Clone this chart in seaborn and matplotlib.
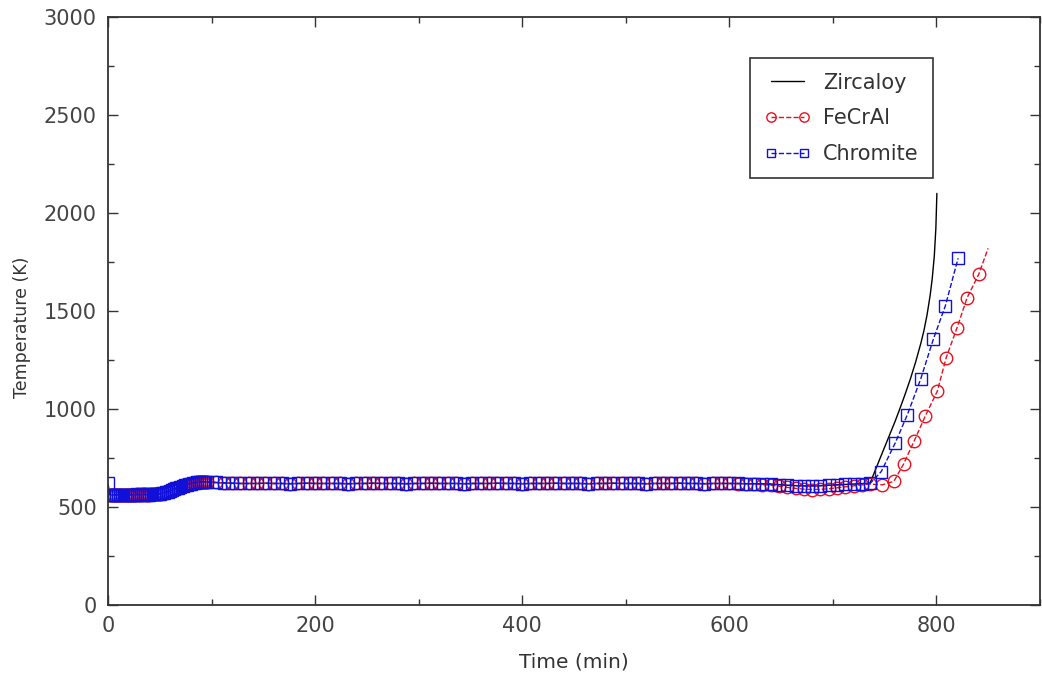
import numpy as np
import pandas as pd
import matplotlib
matplotlib.use("Agg")
import matplotlib.pyplot as plt
from matplotlib.ticker import MultipleLocator
import seaborn as sns

# ---- data -----------------------------------------------------------------
# early transient (min), sampled every 2 min
time_early = [2, 4, 6, 8, 10, 12, 14, 16, 18, 20, 22, 24, 26, 28, 30, 32, 34,
              36, 38, 40, 42, 44, 46, 48, 50, 52, 54, 56, 58, 60, 62, 64, 66,
              68, 70, 72, 74, 76, 78, 80, 82, 84, 86, 88, 90, 92, 94]
temp_early = [563, 562, 562, 562, 563, 562, 562, 563, 563, 562, 562, 563, 563,
              564, 563, 563, 564, 564, 563, 563, 564, 564, 565, 566, 567, 569,
              572, 575, 579, 583, 587, 591, 595, 599, 603, 607, 610, 613, 616,
              619, 621, 623, 625, 627, 628, 629, 628]

# quasi-steady period (min), sampled every 8 min
time_flat = [96, 104, 112, 120, 128, 136, 144, 152, 160, 168, 176, 184, 192,
             200, 208, 216, 224, 232, 240, 248, 256, 264, 272, 280, 288, 296,
             304, 312, 320, 328, 336, 344, 352, 360, 368, 376, 384, 392, 400,
             408, 416, 424, 432, 440, 448, 456, 464, 472, 480, 488, 496, 504,
             512, 520, 528, 536, 544, 552, 560, 568, 576, 584, 592, 600, 608,
             616, 624, 632, 640, 648, 656, 664, 672, 680, 688, 696, 704, 712,
             720, 728, 736]

zircaloy_flat = [627, 625, 623, 621, 620, 620, 620, 621, 620, 620, 619, 620,
                 621, 620, 620, 620, 620, 619, 620, 620, 621, 620, 620, 620,
                 619, 620, 620, 621, 620, 620, 620, 619, 620, 620, 620, 621,
                 620, 620, 619, 620, 620, 620, 621, 620, 620, 620, 619, 620,
                 620, 621, 620, 620, 620, 619, 620, 620, 620, 621, 620, 620,
                 619, 620, 620, 620, 620, 619, 619, 618, 617, 614, 611, 609,
                 608, 608, 609, 611, 613, 615, 617, 619, 622]
fecral_flat = [627, 625, 623, 621, 620, 620, 620, 621, 620, 620, 619, 620,
               621, 620, 620, 620, 620, 619, 620, 620, 621, 620, 620, 620,
               619, 620, 620, 621, 620, 620, 620, 619, 620, 620, 620, 621,
               620, 620, 619, 620, 620, 620, 621, 620, 620, 620, 619, 620,
               620, 621, 620, 620, 620, 619, 620, 620, 620, 621, 620, 620,
               619, 620, 620, 620, 619, 618, 616, 614, 611, 606, 600, 595,
               591, 589, 590, 593, 598, 603, 608, 613, 617]
chromite_flat = [627, 625, 623, 621, 620, 620, 620, 621, 620, 620, 619, 620,
                 621, 620, 620, 620, 620, 619, 620, 620, 621, 620, 620, 620,
                 619, 620, 620, 621, 620, 620, 620, 619, 620, 620, 620, 621,
                 620, 620, 619, 620, 620, 620, 621, 620, 620, 620, 619, 620,
                 620, 621, 620, 620, 620, 619, 620, 620, 620, 621, 620, 620,
                 619, 620, 620, 620, 620, 619, 619, 618, 617, 614, 611, 609,
                 608, 608, 609, 611, 613, 615, 617, 619, 620]

# heat-up after loss of cooling (min, K)
zircaloy_rise_t = [740, 745, 750, 755, 760, 765, 770, 775, 780, 785, 788, 791,
                   794, 796, 798, 799.5, 800.5]
zircaloy_rise_T = [675, 740, 805, 870, 935, 1005, 1078, 1155, 1240, 1335, 1400,
                   1480, 1580, 1665, 1780, 1920, 2100]

fecral_rise_t = [747.7, 759, 768.5, 778.4, 789.3, 800.9, 809.5, 820, 829.7,
                 840.9, 850]
fecral_rise_T = [613, 631, 721, 835, 964, 1091, 1262, 1415, 1568, 1687, 1820]

chromite_rise_t = [746.8, 760.3, 772, 785, 797, 808.6, 821]
chromite_rise_T = [681, 827, 971, 1155, 1355, 1525, 1769]

chromite_t0, chromite_T0 = 0, 620

zircaloy = pd.DataFrame({
    "time": [0] + time_early + time_flat + zircaloy_rise_t,
    "temp": [565] + temp_early + zircaloy_flat + zircaloy_rise_T,
})
fecral = pd.DataFrame({
    "time": time_early + time_flat + fecral_rise_t,
    "temp": temp_early + fecral_flat + fecral_rise_T,
})
chromite = pd.DataFrame({
    "time": [chromite_t0] + time_early + time_flat + chromite_rise_t,
    "temp": [chromite_T0] + temp_early + chromite_flat + chromite_rise_T,
})

# ---- plot -----------------------------------------------------------------
sns.set_style("white")
plt.rcParams["font.family"] = ["DejaVu Sans"]
plt.rcParams["text.color"] = "#333333"

fig = plt.figure(figsize=(10.42, 6.8), dpi=100)
ax = fig.add_axes([0.1036, 0.1103, 0.8944, 0.8647])

sns.lineplot(data=zircaloy, x="time", y="temp", ax=ax, sort=False,
             estimator=None, color="black", linewidth=1.0, label="Zircaloy")
sns.lineplot(data=fecral, x="time", y="temp", ax=ax, sort=False,
             estimator=None, color="#e8101e", linewidth=1.0, linestyle="--",
             dashes=(3, 2.5), marker="o", markersize=9, markerfacecolor="none",
             markeredgecolor="#e8101e", markeredgewidth=1.0,
             markevery=list(range(len(fecral) - 1)), label="FeCrAl")
sns.lineplot(data=chromite, x="time", y="temp", ax=ax, sort=False,
             estimator=None, color="#1010d8", linewidth=1.0, linestyle="--",
             dashes=(3, 2.5), marker="s", markersize=8.5, markerfacecolor="none",
             markeredgecolor="#1010d8", markeredgewidth=1.0, label="Chromite")

ax.set_xlim(0, 900)
ax.set_ylim(0, 3000)
ax.xaxis.set_major_locator(MultipleLocator(200))
ax.xaxis.set_minor_locator(MultipleLocator(100))
ax.yaxis.set_major_locator(MultipleLocator(500))
ax.yaxis.set_minor_locator(MultipleLocator(250))

for side in ["top", "right", "bottom", "left"]:
    ax.spines[side].set_visible(True)
    ax.spines[side].set_color("#333333")
    ax.spines[side].set_linewidth(1.3)

ax.tick_params(which="both", direction="in", top=True, right=True,
               bottom=True, left=True, colors="#333333", labelcolor="#444444",
               labelsize=15, pad=8)
ax.tick_params(which="major", length=7, width=1.0)
ax.tick_params(which="minor", length=4, width=1.0)

ax.set_xlabel("Time (min)", fontsize=14.5, color="#333333", labelpad=12)
ax.set_ylabel("Temperature (K)", fontsize=12.5, color="#333333")
ax.yaxis.set_label_coords(-0.083, 0.473)

leg = ax.legend(loc="upper left", bbox_to_anchor=(0.6888, 0.9303),
                borderaxespad=0, numpoints=2,
                fancybox=False, framealpha=1, edgecolor="#333333",
                fontsize=15, handlelength=2.2, borderpad=0.7,
                labelspacing=0.75, handletextpad=0.6, markerscale=0.75)
leg.get_frame().set_linewidth(1.2)

fig.savefig("out.png", dpi=100)
